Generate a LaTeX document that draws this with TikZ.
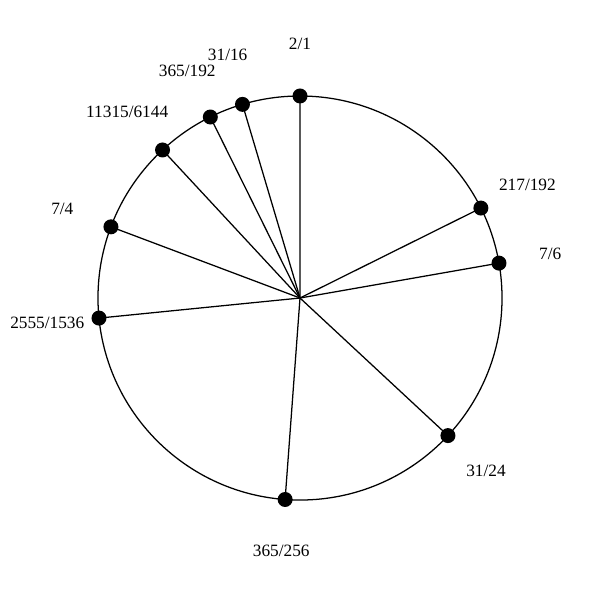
\documentclass[tikz,border=0pt]{standalone}
\usepackage{fontspec}
\setmainfont{Liberation Serif}
\usepackage{tikz}

\begin{document}
\begin{tikzpicture}[x=1cm,y=1cm,line width=0.6pt,
  dot/.style={circle,fill=black,inner sep=0pt,minimum size=0.25cm},
  ratio label/.style={font=\fontsize{8.2}{10}\selectfont,inner sep=0pt}]

  \useasboundingbox (-5,-5.033) rectangle (5,4.967);

  \node[coordinate] (O) at (0,0) {};
  \draw (O) circle (3.367);

  % each ratio sits at the angle 90 - 360*log2(ratio)
  \foreach \num/\den/\name in {2/1/r21, 217/192/r217, 7/6/r76, 31/24/r3124,
      365/256/r365a, 2555/1536/r2555, 7/4/r74, 11315/6144/r11315,
      365/192/r365b, 31/16/r3116} {
    \pgfmathsetmacro{\ang}{90-360*ln(\num/\den)/ln(2)}
    \node[dot] (\name) at (\ang:3.367) {};
    \node[ratio label] (\name-l) at (\ang:4.233) {\num/\den};
    \draw (O) -- (\name.center);
  }
\end{tikzpicture}
\end{document}
